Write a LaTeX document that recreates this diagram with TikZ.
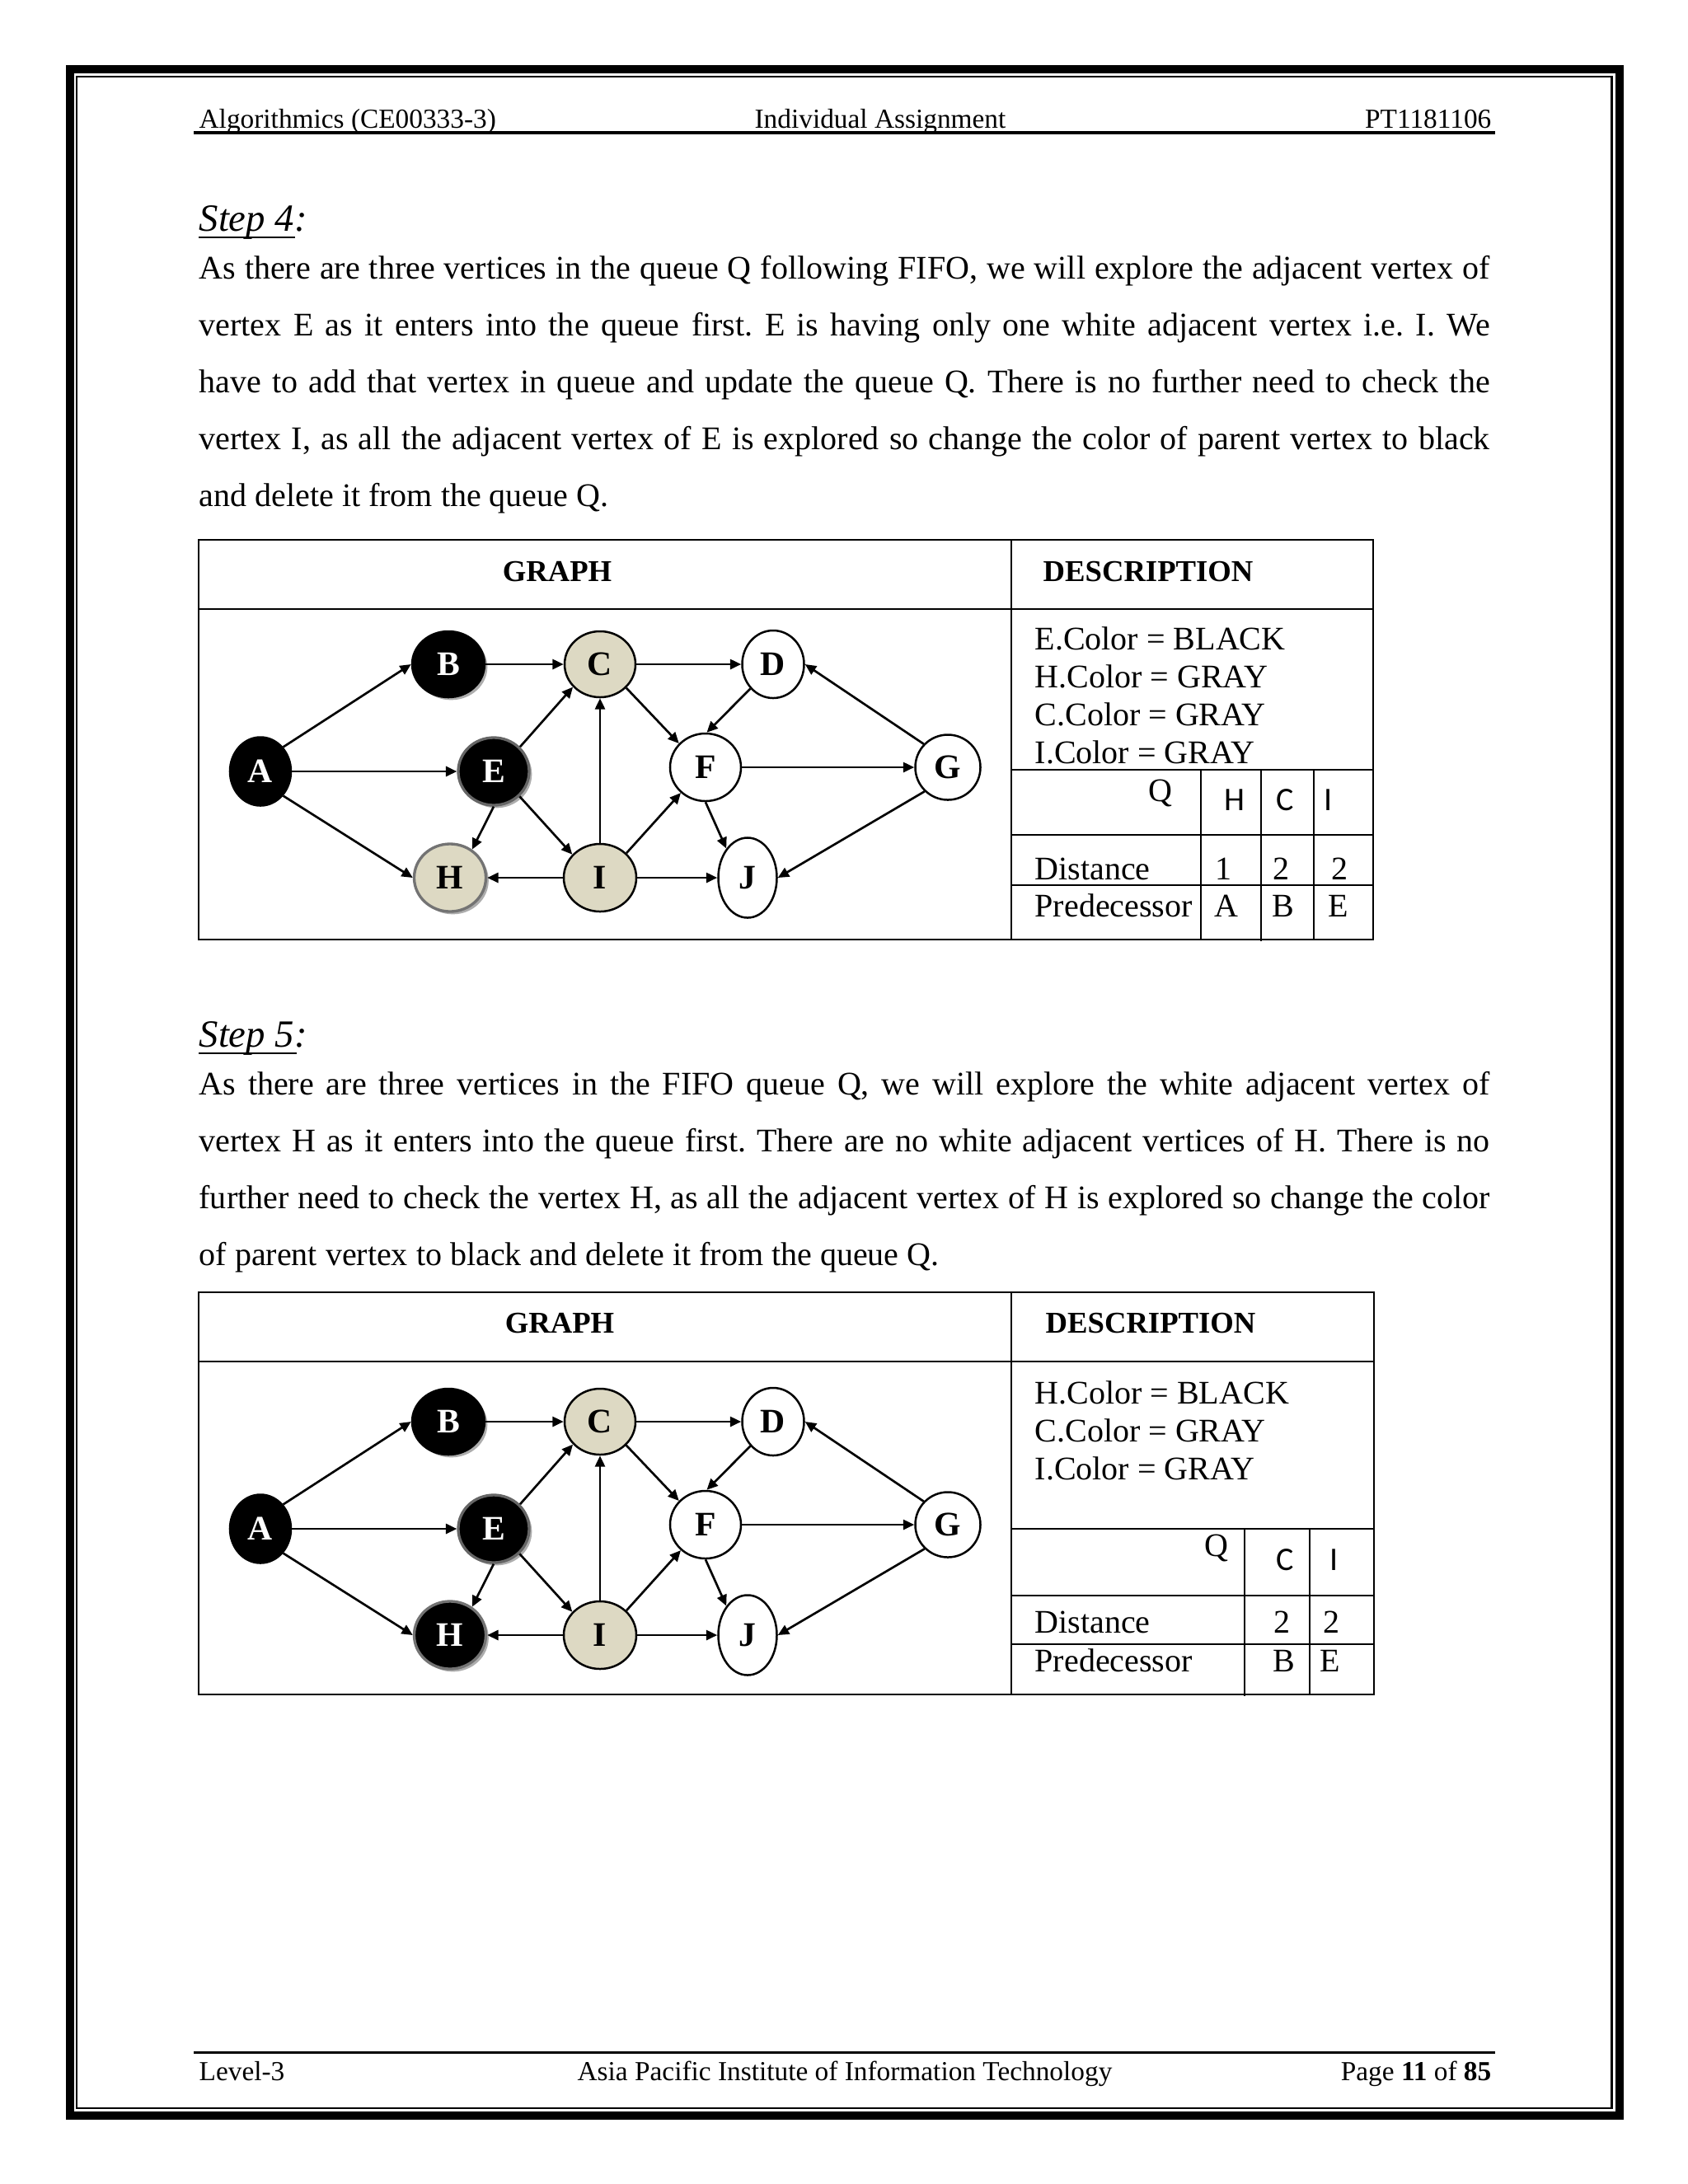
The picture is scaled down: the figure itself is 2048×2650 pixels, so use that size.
\documentclass[tikz,border=0pt]{standalone}
\usepackage{fontspec}
\setmainfont{Liberation Serif}
\newfontfamily\calfont{Carlito}
\usetikzlibrary{shapes.geometric,arrows.meta,shadows}
\definecolor{beige}{HTML}{DDD9C3}
\frenchspacing
\tikzset{
  vtx/.style={ellipse, draw=black, line width=0.75pt, inner sep=0pt, font=\fontsize{12.5}{14}\selectfont\bfseries},
  blk/.style={vtx, fill=black, text=white},
  gry/.style={vtx, fill=beige},
  wht/.style={vtx, fill=white},
  sz/.style 2 args={minimum width=#1pt, minimum height=#2pt},
  shd/.style={drop shadow={shadow xshift=1pt, shadow yshift=-1pt, fill=black!40, opacity=0.8}},
  arr/.style={-{Triangle[length=4pt,width=3.6pt]}, line width=0.8pt},
  tl/.style={line width=0.6pt},
  txt/.style={anchor=base west, inner sep=0pt, font=\fontsize{12}{14}\selectfont},
  hdr/.style={anchor=base west, inner sep=0pt, font=\fontsize{11}{13}\selectfont\bfseries},
  hf/.style={inner sep=0pt, font=\fontsize{10}{12}\selectfont},
  stp/.style={anchor=base west, inner sep=0pt, font=\fontsize{14}{16}\selectfont\itshape},
  cal/.style={anchor=base, inner sep=0pt, font=\calfont\fontsize{12}{14}\selectfont},
}
\newcommand\bfsgraph[3]{%
\begin{scope}[shift={(0,#1)}]
\node[blk, sz={22.2}{24.9}] (#2A) at (316,936) {A};
\node[blk, shd, sz={26.4}{24}] (#2B) at (544,806) {B};
\node[gry, sz={25.8}{24}] (#2C) at (728,806) {C};
\node[wht, sz={22.5}{24.6}] (#2D) at (938,806) {D};
\node[blk, shd, draw=black!60, line width=1pt, sz={25.8}{24.6}] (#2E) at (599,936) {E};
\node[wht, sz={25.8}{24.6}] (#2F) at (856,931) {F};
\node[wht, sz={23.7}{23.7}] (#2G) at (1150,931) {G};
\node[#3, shd, draw=black!55, line width=1pt, sz={26.1}{24.6}] (#2H) at (546,1065) {H};
\node[gry, sz={26.4}{24.6}] (#2I) at (728,1065) {I};
\node[wht, sz={21.3}{29.1}] (#2J) at (907,1065) {J};
\draw[arr] (#2A.47) -- (#2B.180);
\draw[arr] (#2B.0) -- (#2C.180);
\draw[arr] (#2C.0) -- (#2D.180);
\draw[arr] (#2A.0) -- (#2E.180);
\draw[arr] (#2A.-47) -- (#2H.180);
\draw[arr] (#2E.43) -- (#2C.220);
\draw[arr] (#2E.-90) -- (#2H.52);
\draw[arr] (#2E.-44) -- (#2I.140);
\draw[arr] (#2I.90) -- (#2C.-90);
\draw[arr] (#2I.180) -- (#2H.0);
\draw[arr] (#2I.0) -- (#2J.180);
\draw[arr] (#2I.43) -- (#2F.226);
\draw[arr] (#2C.-42) -- (#2F.138);
\draw[arr] (#2D.227) -- (#2F.88);
\draw[arr] (#2F.0) -- (#2G.180);
\draw[arr] (#2F.-90) -- (#2J.126);
\draw[arr] (#2G.136) -- (#2D.0);
\draw[arr] (#2G.226) -- (#2J.0);
\end{scope}}
\newcommand\jl[2]{\node[txt] at (241,#1) {\makebox[469.6pt][s]{#2}};}
\begin{document}
\begin{tikzpicture}[x=0.29988pt, y=-0.29988pt]
\fill[white] (0,0) rectangle (2048,2650);
\useasboundingbox (0,0) rectangle (2048,2650);
% page border
\draw[line width=3pt] (85,84) rectangle (1965,2567);
\draw[line width=0.75pt] (93,93) rectangle (1955.5,2558);
% header
\node[hf, anchor=base west] at (241,155) {Algorithmics (CE00333-3)};
\node[hf, anchor=base] at (1068,155) {Individual Assignment};
\node[hf, anchor=base east] at (1810,155) {PT1181106};
\draw[line width=1pt] (235,161) -- (1814,161);
% footer
\draw[line width=1pt] (235,2490.5) -- (1814,2490.5);
\node[hf, anchor=base west] at (241,2524) {Level-3};
\node[hf, anchor=base] at (1025,2524) {Asia Pacific Institute of Information Technology};
\node[hf, anchor=base east] at (1810,2524) {Page \textbf{11} of \textbf{85}};
% step 4 text
\node[stp] at (241,280) {Step 4:};
\draw[line width=0.8pt] (241,288) -- (358,288);
\jl{338}{As there are three vertices in the queue Q following FIFO, we will explore the adjacent vertex of}
\jl{407}{vertex E as it enters into the queue first. E is having only one white adjacent vertex i.e. I. We}
\jl{476}{have to add that vertex in queue and update the queue Q. There is no further need to check the}
\jl{545}{vertex I, as all the adjacent vertex of E is explored so change the color of parent vertex to black}
\node[txt] at (241,614) {and delete it from the queue Q.};
% step 4 table
\draw[tl] (241,655) rectangle (1666,1140);
\draw[tl] (241,739) -- (1666,739);
\draw[tl] (1227,655) -- (1227,1140);
\draw[tl] (1227,934) -- (1666,934);
\draw[tl] (1227,1013) -- (1666,1013);
\draw[tl] (1227,1074) -- (1666,1074);
\draw[tl] (1457,934) -- (1457,1140);
\draw[tl] (1530,934) -- (1530,1142);
\draw[tl] (1594,934) -- (1594,1140);
\node[hdr, anchor=base] at (676,705) {GRAPH};
\node[hdr] at (1265,705) {DESCRIPTION};
\node[txt] at (1255,788) {E.Color = BLACK};
\node[txt] at (1255,834) {H.Color = GRAY};
\node[txt] at (1255,880) {C.Color = GRAY};
\node[txt] at (1255,926) {I.Color = GRAY};
\node[txt, anchor=base] at (1408,972) {Q};
\node[cal] at (1498,983) {H};
\node[cal] at (1559,983) {C};
\node[cal] at (1612,983) {I};
\node[txt] at (1255,1067) {Distance};
\node[txt, anchor=base] at (1484,1067) {1};
\node[txt, anchor=base] at (1554,1067) {2};
\node[txt, anchor=base] at (1625,1067) {2};
\node[txt] at (1255,1112) {Predecessor};
\node[txt, anchor=base] at (1488,1112) {A};
\node[txt, anchor=base] at (1557,1112) {B};
\node[txt, anchor=base] at (1624,1112) {E};
\bfsgraph{0}{a}{gry}
% step 5 text
\node[stp] at (241,1270) {Step 5:};
\draw[line width=0.8pt] (241,1278) -- (360,1278);
\jl{1328}{As there are three vertices in the FIFO queue Q, we will explore the white adjacent vertex of}
\jl{1397}{vertex H as it enters into the queue first. There are no white adjacent vertices of H. There is no}
\jl{1466}{further need to check the vertex H, as all the adjacent vertex of H is explored so change the color}
\node[txt] at (241,1535) {of parent vertex to black and delete it from the queue Q.};
% step 5 table
\draw[tl] (241,1568) rectangle (1667,2056);
\draw[tl] (241,1652) -- (1667,1652);
\draw[tl] (1227,1568) -- (1227,2056);
\draw[tl] (1227,1855) -- (1667,1855);
\draw[tl] (1227,1936) -- (1667,1936);
\draw[tl] (1227,1995) -- (1667,1995);
\draw[tl] (1510,1855) -- (1510,2058);
\draw[tl] (1589,1855) -- (1589,2056);
\node[hdr, anchor=base] at (679,1617) {GRAPH};
\node[hdr] at (1268,1617) {DESCRIPTION};
\node[txt] at (1255,1703) {H.Color = BLACK};
\node[txt] at (1255,1749) {C.Color = GRAY};
\node[txt] at (1255,1795) {I.Color = GRAY};
\node[txt, anchor=base] at (1476,1888) {Q};
\node[cal] at (1559,1905) {C};
\node[cal] at (1619,1905) {I};
\node[txt] at (1255,1981) {Distance};
\node[txt, anchor=base] at (1555,1981) {2};
\node[txt, anchor=base] at (1615,1981) {2};
\node[txt] at (1255,2028) {Predecessor};
\node[txt, anchor=base] at (1558,2028) {B};
\node[txt, anchor=base] at (1614,2028) {E};
\bfsgraph{919}{b}{blk}
\end{tikzpicture}
\end{document}
